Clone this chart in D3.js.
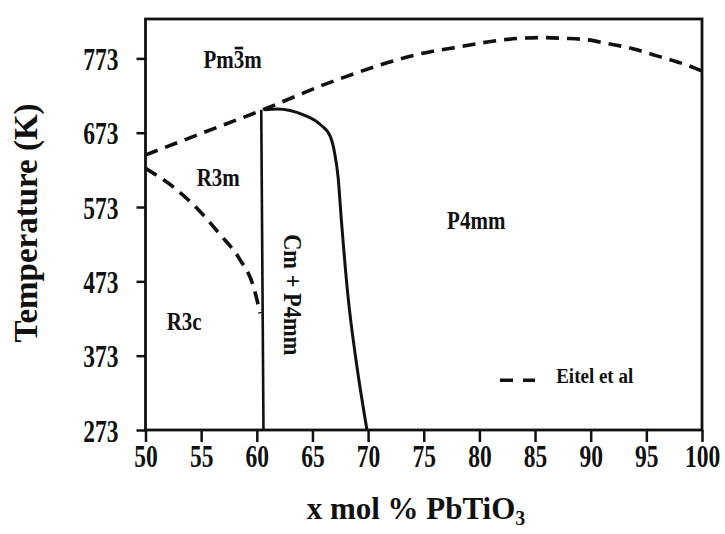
<!DOCTYPE html>
<html><head><meta charset="utf-8">
<script src="https://cdn.jsdelivr.net/npm/d3@7"></script>
<style>
html,body{margin:0;padding:0;background:#fff;}
svg{display:block;}
text{font-family:"Liberation Serif","Times New Roman",serif;font-weight:bold;fill:#111;}
</style></head>
<body><svg id="c" width="725" height="534"></svg>
<script>
// ---- data ----
const xTicks = [50,55,60,65,70,75,80,85,90,95,100];
const yTicks = [273,373,473,573,673,773];
// Eitel et al: cubic boundary (upper dashed)
const upperX = [50, 55, 60.4, 67, 75.6, 77.6, 80.7, 83.6, 85.7, 87.5, 89.7, 91.5, 93.8, 95.6, 97.4, 99.2, 100];
const upperT = [643, 672, 703, 743, 782, 787, 795, 800, 801, 800, 798, 793, 786, 778, 770, 761, 756];
// Eitel et al: R3m / R3c boundary (lower dashed)
const lowerX = [50, 52.5, 54.9, 56.7, 58.5, 59.7, 60.3];
const lowerT = [625, 600, 567, 536, 502, 466, 430];
// vertical boundary (solid)
const leftX = [60.4, 60.6];
const leftT = [704, 273];
// Cm + P4mm / P4mm boundary (solid)
const rightX = [60.7, 61.8, 63, 64.2, 65.7, 66.6, 67.0, 67.3, 67.6, 68.2, 69.0, 69.9];
const rightT = [704, 705, 703, 697, 684, 668, 645, 614, 555, 452, 358, 273];
// phase labels
const phaseNames = ["R3m", "R3c", "P4mm"];
const phaseX = [54.6, 51.9, 77.1];
const phaseT = [601, 407, 543];
const legendLabel = "Eitel et al";

// ---- layout ----
const svg = d3.select("#c");
const x = d3.scaleLinear().domain([50,100]).range([145.5,702]);
const y = d3.scaleLinear().domain([273,826]).range([430,19]);

const ink = "#111";

// axes
const gx = svg.append("g").attr("transform","translate(0,430)")
  .call(d3.axisBottom(x).tickValues(xTicks).tickSize(12).tickFormat(d3.format("d")));
gx.select(".domain").remove();
gx.selectAll(".tick line").attr("stroke",ink).attr("stroke-width",2.5);
gx.selectAll(".tick text").attr("y",0).attr("dy","0.36em")
  .attr("transform","translate(0,26) scale(0.98,1.3)")
  .attr("font-size",24).attr("fill",ink);

const gy = svg.append("g").attr("transform","translate(145.5,0)")
  .call(d3.axisLeft(y).tickValues(yTicks).tickSize(9));
gy.select(".domain").remove();
gy.selectAll(".tick line").attr("stroke",ink).attr("stroke-width",2.5);
gy.selectAll(".tick text").attr("x",0).attr("dy","0.36em")
  .attr("transform","translate(-27,0) scale(0.98,1.3)")
  .attr("font-size",24).attr("fill",ink);

// frame
svg.append("rect").attr("x",x(50)).attr("y",y(826))
  .attr("width",x(100)-x(50)).attr("height",y(273)-y(826))
  .attr("fill","none").attr("stroke",ink).attr("stroke-width",2.8);

// lines
const line = d3.line().x(d=>x(d[0])).y(d=>y(d[1])).curve(d3.curveMonotoneX);
const zip = (a,b)=>a.map((v,i)=>[v,b[i]]);

svg.append("path").datum(zip(upperX,upperT)).attr("d",line)
  .attr("fill","none").attr("stroke",ink).attr("stroke-width",3.6).attr("stroke-dasharray","13,8");
svg.append("path").datum(zip(lowerX,lowerT)).attr("d",line)
  .attr("fill","none").attr("stroke",ink).attr("stroke-width",3.6).attr("stroke-dasharray","13,8");
svg.append("path").datum(zip(leftX,leftT)).attr("d",d3.line().x(d=>x(d[0])).y(d=>y(d[1])))
  .attr("fill","none").attr("stroke",ink).attr("stroke-width",2.6);
svg.append("path").datum(zip(rightX,rightT)).attr("d",line)
  .attr("fill","none").attr("stroke",ink).attr("stroke-width",3);

// phase labels
phaseNames.forEach((n,i)=>{
  svg.append("text").attr("transform",`translate(${x(phaseX[i])},${y(phaseT[i])}) scale(1,1.18)`)
    .attr("font-size",21).text(n);
});
// Pm-3m with overbar
const pmX = x(55.2), pmY = y(760);
const pm = svg.append("text").attr("transform",`translate(${pmX},${pmY}) scale(1,1.18)`)
  .attr("font-size",21).text("Pm3m");
{
  const n = pm.node();
  const a = n.getSubStringLength(0,2), b = n.getSubStringLength(2,1);
  svg.append("line").attr("x1",pmX+a+1).attr("x2",pmX+a+b-1)
    .attr("y1",pmY-20).attr("y2",pmY-20).attr("stroke",ink).attr("stroke-width",2.6);
}
// Cm + P4mm rotated
svg.append("text").attr("transform",`translate(${x(63.25)},${y(455)}) rotate(90) scale(1.02,1.1)`)
  .attr("text-anchor","middle").attr("dy","0.35em").attr("font-size",22).text("Cm + P4mm");

// legend
svg.append("line").attr("x1",x(81.85)).attr("x2",x(85)).attr("y1",y(340)).attr("y2",y(340))
  .attr("stroke",ink).attr("stroke-width",3.6).attr("stroke-dasharray","13,10");
svg.append("text").attr("transform",`translate(${x(86.9)},${y(336)}) scale(1,1.15)`)
  .attr("font-size",19).text(legendLabel);

// axis titles
svg.append("text").attr("transform","translate(37,223) rotate(-90)")
  .attr("text-anchor","middle").attr("font-size",33).text("Temperature (K)");
const xt = svg.append("text").attr("x",416).attr("y",519).attr("text-anchor","middle").attr("font-size",31);
xt.append("tspan").text("x mol % PbTiO");
xt.append("tspan").attr("font-size",20).attr("dy",6).text("3");
</script></body></html>
